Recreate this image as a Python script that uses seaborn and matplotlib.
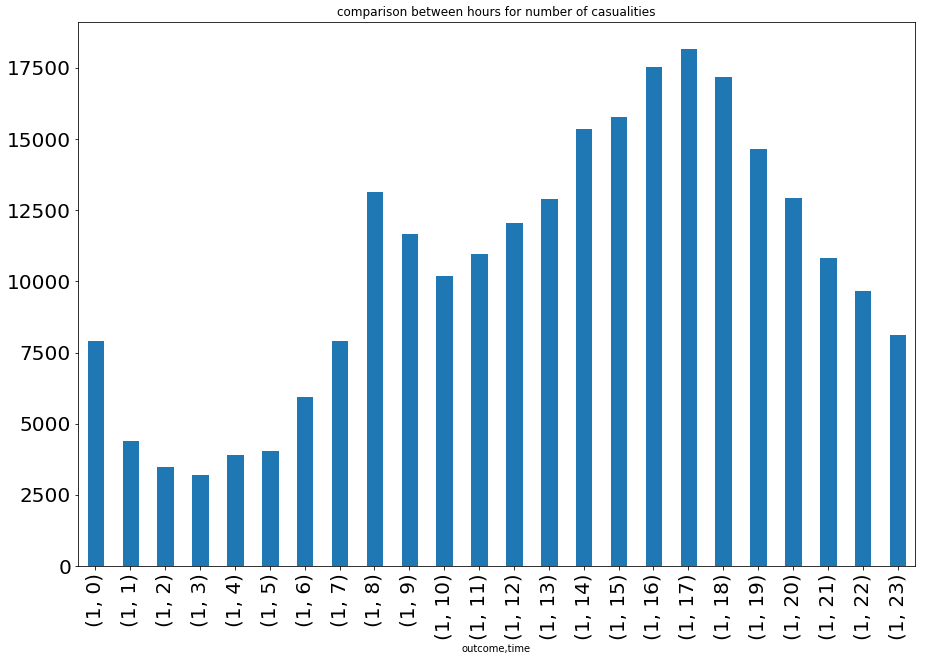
import matplotlib
matplotlib.use("Agg")
import matplotlib.pyplot as plt
import seaborn as sns
import pandas as pd

# casualties per hour (outcome == 1)
outcome = [1] * 24
hours = list(range(24))
casualties = [7944, 4429, 3515, 3234, 3937, 4077, 5975, 7944,
              13179, 11705, 10228, 11001, 12091, 12935, 15396, 15817,
              17570, 18205, 17219, 14689, 12970, 10861, 9701, 8155]
tick_labels = [f"({o}, {h})" for o, h in zip(outcome, hours)]

df = pd.DataFrame({"label": tick_labels, "casualties": casualties})

sns.set_style("ticks", {"text.color": "black", "xtick.color": "black",
                        "ytick.color": "black", "axes.labelcolor": "black",
                        "axes.edgecolor": "black"})
plt.rcParams["font.family"] = ["DejaVu Sans"]

fig = plt.figure(figsize=(926 / 72, 661 / 72), dpi=72)
ax = fig.add_axes([78 / 926, (661 - 566) / 661, (915 - 78) / 926, (566 - 22) / 661])

sns.barplot(data=df, x="label", y="casualties", color="#1f77b4",
            saturation=1, width=0.5, ax=ax)

ax.set_xlim(-0.5, len(casualties) - 0.5)
ax.set_ylim(0, max(casualties) * 1.05)
ax.set_yticks(range(0, 17501, 2500))
ax.tick_params(axis="both", labelsize=20, length=3.5, width=0.8, colors="black")
ax.tick_params(axis="x", labelrotation=90)
for s in ax.spines.values():
    s.set_visible(True)
    s.set_linewidth(0.8)
    s.set_color("black")

ax.set_title("comparison between hours for number of casualities", fontsize=12, color="black")
ax.set_xlabel("outcome,time", fontsize=10, color="black")
ax.set_ylabel("")

fig.savefig("out.png", dpi=72, facecolor="white")
